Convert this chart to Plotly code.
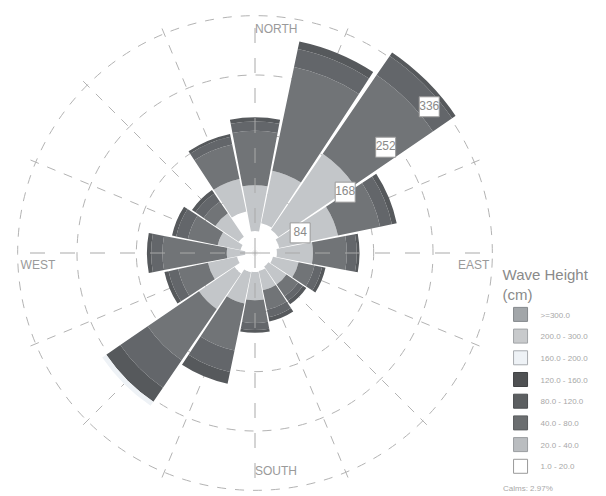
import plotly.graph_objects as go

directions = ["N", "NNE", "NE", "ENE", "E", "ESE", "SE", "SSE",
              "S", "SSW", "SW", "WSW", "W", "WNW", "NW", "NNW"]
dir_deg = [0, 22.5, 45, 67.5, 90, 112.5, 135, 157.5,
           180, 202.5, 225, 247.5, 270, 292.5, 315, 337.5]

bins = ["1.0 - 20.0", "20.0 - 40.0", "40.0 - 80.0", "80.0 - 120.0",
        "120.0 - 160.0", "160.0 - 200.0", "200.0 - 300.0", ">=300.0"]

# values per direction for each wave height class
h_1_20    = [31, 43, 40, 35, 31, 26, 23, 26, 27, 28, 35, 26, 14, 21, 28, 60]
h_20_40   = [65, 76, 130, 85, 51, 37, 31, 28, 40, 45, 61, 42, 26, 33, 40, 47]
h_40_80   = [77, 150, 135, 61, 48, 23, 20, 28, 32, 68, 88, 43, 91, 43, 20, 50]
h_80_120  = [13, 26, 33, 17, 14, 11, 8, 11, 10, 31, 47, 14, 16, 17, 14, 11]
h_120_160 = [6, 11, 13, 7, 4, 5, 6, 6, 4, 17, 24, 6, 6, 6, 6, 4]
h_160_200 = [0, 0, 0, 0, 0, 0, 0, 0, 0, 0, 7, 0, 0, 0, 0, 0]
h_200_300 = [0] * 16
h_300     = [0] * 16
series = [h_1_20, h_20_40, h_40_80, h_80_120, h_120_160, h_160_200, h_200_300, h_300]

colors = ["#ffffff", "#c3c6c9", "#717477", "#63666a", "#56595c",
          "#eef2f6", "#c8cacc", "#a2a6a9"]
legend_colors = ["#ffffff", "#babdc0", "#6b6e70", "#5c5f61", "#4f5153",
                 "#eef2f6", "#c8cacc", "#a2a6a9"]
legend_line = ["#9a9a9a", "#9a9da0", "#5a5c5e", "#4c4e50", "#404244",
               "#a8acb0", "#a0a3a6", "#85898c"]

ring_ticks = [84, 168, 252, 336]
cardinal_names = ["NORTH", "EAST", "SOUTH", "WEST"]
cardinal_deg = [0, 91.7, 180, 268.3]
cardinal_r = [324, 332, 318, 332]
cardinal_pos = ["bottom right", "bottom left", "top right", "bottom right"]

fig = go.Figure()

# cardinal long-dash lines (behind bars)
cr, ct = [], []
for d in [0, 90, 180, 270]:
    cr += [0, ring_ticks[-1], None]
    ct += [d, d, None]
fig.add_trace(go.Scatterpolar(r=cr, theta=ct, mode="lines",
                              line=dict(color="#a9a9a9", width=1, dash="longdash"),
                              showlegend=False, hoverinfo="skip"))

for i, (name, vals) in enumerate(zip(bins, series)):
    fig.add_trace(go.Barpolar(
        r=vals, theta=dir_deg, width=[21.3] * 16, name=name,
        showlegend=False,
        marker=dict(color=colors[i], line=dict(width=0)),
    ))

# legend entries (top: >=300.0)
for i in reversed(range(len(bins))):
    fig.add_trace(go.Scatterpolar(
        r=[None], theta=[None], mode="markers", name=bins[i],
        legendgroup="g%d" % i,
        marker=dict(symbol="square", size=14, color=legend_colors[i],
                    line=dict(color=legend_line[i], width=1)),
        showlegend=True, hoverinfo="skip"))

# cardinal labels
for name, d, rr, pos in zip(cardinal_names, cardinal_deg, cardinal_r, cardinal_pos):
    fig.add_trace(go.Scatterpolar(
        r=[rr], theta=[d], mode="text", text=[name],
        textposition=pos, textfont=dict(size=12, color="#9a9a9a"),
        showlegend=False, hoverinfo="skip"))

# radial labels in boxes
label_theta = [66, 56, 51, 50]
label_r = [t - 14 for t in ring_ticks]
fig.add_trace(go.Scatterpolar(
    r=label_r, theta=label_theta, mode="markers+text",
    text=[str(t) for t in ring_ticks], textposition="middle center",
    marker=dict(symbol="square", size=20, color="white",
                line=dict(color="#9a9a9a", width=1)),
    textfont=dict(size=12, color="#8a8a8a"),
    showlegend=False, hoverinfo="skip"))

fig.update_layout(
    width=606, height=496,
    margin=dict(l=0, r=0, t=0, b=0),
    paper_bgcolor="white",
    font=dict(family="Liberation Sans, Arial, sans-serif", color="#9a9a9a"),
    polar=dict(
        domain=dict(x=[12 / 606, 498 / 606], y=[0.0, 1 - 10 / 496]),
        bgcolor="white",
        barmode="stack",
        radialaxis=dict(range=[0, 344], tickvals=ring_ticks, showticklabels=False,
                        ticks="", showline=False, gridcolor="#b3b3b3",
                        griddash="dash", gridwidth=1),
        angularaxis=dict(rotation=90, direction="clockwise",
                         tickvals=[d for d in dir_deg if d % 90 != 0],
                         showticklabels=False, ticks="", showline=False,
                         gridcolor="#b3b3b3", griddash="dash", gridwidth=1),
    ),
    legend=dict(
        x=0.826, y=0.474, xanchor="left", yanchor="top",
        traceorder="grouped", tracegroupgap=2.7,
        title=dict(text="Wave Height<br>(cm)", font=dict(size=15, color="#8a8a8a")),
        font=dict(size=8, color="#a8a8a8"),
        itemwidth=30, bgcolor="rgba(0,0,0,0)",
    ),
    annotations=[dict(text="Calms: 2.97%", x=0.826, y=0.003, xref="paper", yref="paper",
                      xanchor="left", yanchor="bottom", showarrow=False,
                      font=dict(size=8, color="#a8a8a8"))],
)

fig.write_html("out.html")
